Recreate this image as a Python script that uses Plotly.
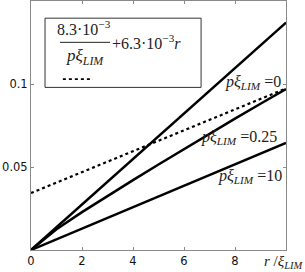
import plotly.graph_objects as go

# ---- data ----
r_vals = [0, 1, 2, 3, 4, 5, 6, 7, 8, 9, 10]
curve_p0 = [0, 0.0137, 0.0274, 0.0411, 0.0548, 0.0685, 0.0822, 0.0959, 0.1096, 0.1233, 0.137]
curve_p025 = [0, 0.0125, 0.0228, 0.0326, 0.0421, 0.0515, 0.0608, 0.0700, 0.0791, 0.0881, 0.097]
curve_p10 = [0, 0.00645, 0.0129, 0.01935, 0.0258, 0.03225, 0.0387, 0.04515, 0.0516, 0.05805, 0.0645]
approx_r = [0, 10]
approx_vals = [0.0343, 0.0973]

x_tickvals = [0, 2, 4, 6, 8]
y_tickvals = [0.05, 0.1]
y_ticktext = ["0.05", "0.1"]

label_text = ["<i>p</i><i>ξ</i><sub><i>LIM</i></sub> =0",
              "<i>p</i><i>ξ</i><sub><i>LIM</i></sub> =0.25",
              "<i>p</i><i>ξ</i><sub><i>LIM</i></sub> =10"]
label_x = [9.9, 9.72, 9.92]
label_y = [0.101, 0.0675, 0.044]

serif = "Liberation Serif"
sans = "DejaVu Sans"

fig = go.Figure()
for ys in (curve_p0, curve_p025, curve_p10):
    fig.add_trace(go.Scatter(x=r_vals, y=ys, mode="lines",
                             line=dict(color="black", width=2.5),
                             showlegend=False, hoverinfo="skip"))
fig.add_trace(go.Scatter(x=approx_r, y=approx_vals, mode="lines",
                         line=dict(color="black", width=2.2, dash="dot"),
                         showlegend=False, hoverinfo="skip"))

axis_common = dict(showline=True, linecolor="#8a8a8a", linewidth=1, mirror="ticks",
                   ticks="inside", ticklen=3, tickcolor="#8a8a8a", showgrid=False,
                   zeroline=False, tickfont=dict(family=sans, size=11.5, color="#111"))

fig.update_layout(
    width=305, height=272,
    margin=dict(l=31, r=19, t=1, b=22),
    plot_bgcolor="white", paper_bgcolor="white",
    xaxis=dict(range=[0, 10], tickvals=x_tickvals, **axis_common),
    yaxis=dict(range=[0, 0.15], tickvals=y_tickvals, ticktext=y_ticktext, **axis_common),
    showlegend=False,
)

annotations = []
for t, xx, yy in zip(label_text, label_x, label_y):
    annotations.append(dict(x=xx, y=yy, xref="x", yref="y", text=t, showarrow=False,
                            xanchor="right", yanchor="middle",
                            font=dict(family=serif, size=16, color="#222")))

# x axis title placed at the end of the axis
annotations.append(dict(x=0.905, y=-0.048, xref="paper", yref="paper",
                        text="<i>r</i> /<i>ξ</i><sub><i>LIM</i></sub>", showarrow=False,
                        xanchor="left", yanchor="middle",
                        font=dict(family=serif, size=15, color="#222")))

# legend box content
annotations.append(dict(x=0.208, y=0.842, xref="paper", yref="paper",
                        text="8.3·10<sup>−3</sup>", showarrow=False,
                        xanchor="center", yanchor="bottom",
                        font=dict(family=serif, size=16, color="#222")))
annotations.append(dict(x=0.21, y=0.827, xref="paper", yref="paper",
                        text="<i>p</i><i>ξ</i><sub><i>LIM</i></sub>", showarrow=False,
                        xanchor="center", yanchor="top",
                        font=dict(family=serif, size=17, color="#222")))
annotations.append(dict(x=0.31, y=0.834, xref="paper", yref="paper",
                        text="+6.3·10<sup>−3</sup><i>r</i>", showarrow=False,
                        xanchor="left", yanchor="middle",
                        font=dict(family=serif, size=16, color="#222")))
fig.update_layout(annotations=annotations)

shapes = [
    dict(type="rect", xref="paper", yref="paper", x0=0.055, x1=0.667, y0=0.653, y1=0.931,
         line=dict(color="#333", width=1), fillcolor="white", layer="above"),
    dict(type="line", xref="paper", yref="paper", x0=0.114, x1=0.310, y0=0.834, y1=0.834,
         line=dict(color="#222", width=1)),
    dict(type="line", xref="paper", yref="paper", x0=0.125, x1=0.243, y0=0.686, y1=0.686,
         line=dict(color="black", width=1.8, dash="dot")),
]
fig.update_layout(shapes=shapes)

fig.write_html("out.html", config={"displayModeBar": False},
               post_script="document.body.style.margin='0';document.body.style.overflow='hidden';")
